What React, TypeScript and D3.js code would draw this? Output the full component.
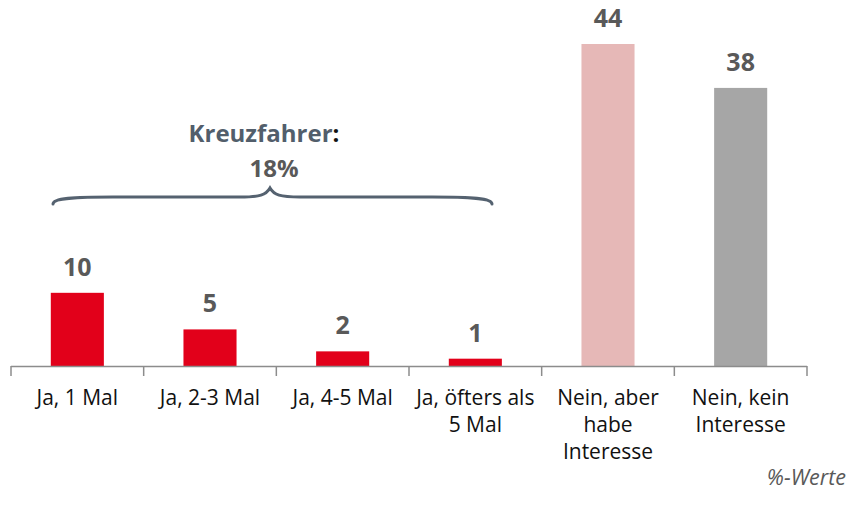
import React from "react";
import * as d3 from "d3";

const categories = [
  "Ja, 1 Mal",
  "Ja, 2-3 Mal",
  "Ja, 4-5 Mal",
  "Ja, öfters als 5 Mal",
  "Nein, aber habe Interesse",
  "Nein, kein Interesse",
];
const labelLines = [
  ["Ja, 1 Mal"],
  ["Ja, 2-3 Mal"],
  ["Ja, 4-5 Mal"],
  ["Ja, öfters als", "5 Mal"],
  ["Nein, aber", "habe", "Interesse"],
  ["Nein, kein", "Interesse"],
];
const values = [10, 5, 2, 1, 44, 38];
const colors = ["#e2001a", "#e2001a", "#e2001a", "#e2001a", "#e6b8b7", "#a6a6a6"];

const W = 854;
const H = 512;
const FONT = "Open Sans, Noto Sans, sans-serif";

const App = () => {
  const x = d3.scaleBand<string>().domain(categories).range([11, 807]).paddingInner(0.6).paddingOuter(0.3);
  const y = d3.scaleLinear().domain([0, 44]).range([366, 44]);
  const slot = (807 - 11) / categories.length;
  const ticks = d3.range(categories.length + 1).map((i) => 11 + i * slot);

  // brace over the "Ja" bars
  const bx0 = 53, bx1 = 492, byEnd = 204, byLine = 197, byPeak = 188;
  const bm = 270;
  const brace = `M${bx0},${byEnd} C${bx0},${byLine + 1} ${bx0 + 20},${byLine} ${bx0 + 60},${byLine}
    L${bm - 30},${byLine} C${bm - 10},${byLine} ${bm - 4},${byLine - 2} ${bm},${byPeak}
    C${bm + 4},${byLine - 2} ${bm + 10},${byLine} ${bm + 30},${byLine}
    L${bx1 - 60},${byLine} C${bx1 - 20},${byLine} ${bx1},${byLine + 1} ${bx1},${byEnd}`;

  return (
    <svg width={W} height={H} style={{ position: "absolute", left: 0, top: 0 }}>
      <rect width={W} height={H} fill="#fff" />
      {categories.map((c, i) => (
        <g key={c}>
          <rect x={x(c)} y={y(values[i])} width={x.bandwidth()} height={y(0) - y(values[i])} fill={colors[i]} />
          <text
            x={x(c)! + x.bandwidth() / 2}
            y={y(values[i]) - 17}
            textAnchor="middle"
            fontFamily={FONT}
            fontWeight="bold"
            fontSize={25}
            fill="#595959"
          >
            {values[i]}
          </text>
          {labelLines[i].map((l, j) => (
            <text
              key={j}
              x={x(c)! + x.bandwidth() / 2}
              y={405 + j * 26.8}
              textAnchor="middle"
              fontFamily={FONT}
              fontSize={21}
              fill="#111"
            >
              {l}
            </text>
          ))}
        </g>
      ))}
      <line x1={11} x2={807} y1={366.5} y2={366.5} stroke="#8c8c8c" strokeWidth={1.5} />
      {ticks.map((t, i) => (
        <line key={i} x1={t} x2={t} y1={366} y2={376} stroke="#8c8c8c" strokeWidth={1.5} />
      ))}
      <path d={brace} fill="none" stroke="#556270" strokeWidth={3} strokeLinecap="round" />
      <text x={264} y={142} textAnchor="middle" fontFamily={FONT} fontWeight="bold" fontSize={24}>
        <tspan fill="#525e6b">Kreuzfahrer</tspan>
        <tspan fill="#111">:</tspan>
      </text>
      <text x={274} y={177} textAnchor="middle" fontFamily={FONT} fontWeight="bold" fontSize={24} fill="#595959">
        18%
      </text>
      <text x={846} y={485} textAnchor="end" fontFamily={FONT} fontStyle="italic" fontSize={21.5} fill="#595959">
        %-Werte
      </text>
    </svg>
  );
};

export default App;
